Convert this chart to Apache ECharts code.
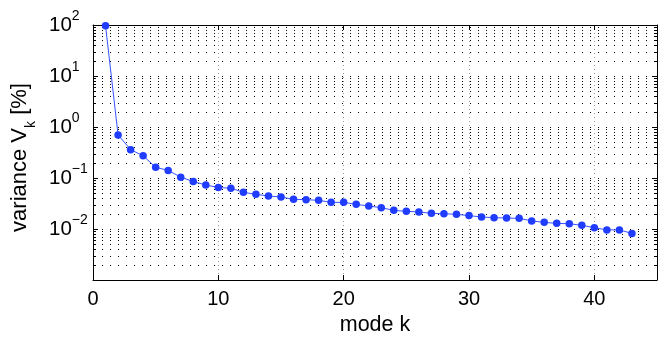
<!DOCTYPE html>
<html>
<head>
<meta charset="utf-8">
<script src="https://cdn.jsdelivr.net/npm/echarts@6/dist/echarts.min.js"></script>
<style>
  html, body { margin: 0; padding: 0; background: #fff; }
  #my_chart { width: 664px; height: 340px; }
</style>
</head>
<body>
<div id="my_chart"></div>
<script>
  // mode number k and variance V_k [%]
  var modes = [1, 2, 3, 4, 5, 6, 7, 8, 9, 10, 11, 12, 13, 14, 15, 16, 17, 18, 19, 20, 21, 22,
    23, 24, 25, 26, 27, 28, 29, 30, 31, 32, 33, 34, 35, 36, 37, 38, 39, 40, 41, 42, 43];
  var variance = [97, 0.70, 0.36, 0.272, 0.162, 0.141, 0.104, 0.085, 0.073, 0.065, 0.063,
    0.0524, 0.0478, 0.0444, 0.0424, 0.0382, 0.0376, 0.0365, 0.0333, 0.0333, 0.0305, 0.0282,
    0.0262, 0.0232, 0.0222, 0.0216, 0.0203, 0.0199, 0.0194, 0.0183, 0.0172, 0.0167, 0.0164,
    0.0162, 0.0144, 0.0135, 0.0129, 0.0127, 0.0118, 0.0106, 0.0096, 0.0096, 0.0082];

  // log grid: decades and the 2..9 sub-steps inside each
  var decades = [0.001, 0.01, 0.1, 1, 10];
  var minorSteps = [2, 3, 4, 5, 6, 7, 8, 9];

  var FONT = "'Liberation Sans', Arial, Helvetica, sans-serif";

  var minorLevels = [];
  decades.forEach(function (d) {
    minorSteps.forEach(function (s) { minorLevels.push([0, d * s]); });
  });

  var my_chart = echarts.init(document.getElementById('my_chart'));

  // dotted minor grid line + short inner ticks on both sides
  function minorGrid(params, api) {
    var cs = params.coordSys;
    var p = api.coord([0, api.value(1)]);
    var y = Math.round(p[1]) + 0.5;
    return {
      type: 'group',
      children: [{
        type: 'line',
        shape: { x1: cs.x, y1: y, x2: cs.x + cs.width, y2: y },
        style: { stroke: '#000', lineWidth: 1, lineDash: [1, 7], lineDashOffset: 7 }
      }, {
        type: 'line',
        shape: { x1: cs.x, y1: y, x2: cs.x + 3, y2: y },
        style: { stroke: '#000', lineWidth: 1 }
      }, {
        type: 'line',
        shape: { x1: cs.x + cs.width - 3, y1: y, x2: cs.x + cs.width, y2: y },
        style: { stroke: '#000', lineWidth: 1 }
      }]
    };
  }

  my_chart.setOption({
    animation: false,
    backgroundColor: '#fff',
    grid: { left: 93, right: 7, top: 25, bottom: 60, containLabel: false, outerBoundsMode: 'none' },
    xAxis: [{
      type: 'value',
      min: 0, max: 45, interval: 10,
      name: 'mode k',
      nameLocation: 'middle',
      nameGap: 33,
      nameTextStyle: { fontSize: 21.5, color: '#000', fontFamily: FONT },
      axisLine: { show: true, onZero: false, lineStyle: { color: '#000', width: 1 } },
      axisTick: { show: true, inside: true, length: 5, lineStyle: { color: '#000' } },
      axisLabel: { fontSize: 20, color: '#000', fontFamily: FONT, margin: 9, showMaxLabel: false },
      splitLine: { show: true, lineStyle: { color: '#999', width: 1, type: [1, 3] } }
    }, {
      type: 'value',
      position: 'top',
      min: 0, max: 45, interval: 10,
      axisLine: { show: true, onZero: false, lineStyle: { color: '#000', width: 1 } },
      axisTick: { show: true, inside: true, length: 5, lineStyle: { color: '#000' } },
      axisLabel: { show: false },
      splitLine: { show: false }
    }],
    yAxis: [{
      type: 'log',
      logBase: 10,
      min: 0.001, max: 100,
      name: '{n|variance V}{sub|k}{n| [%]}',
      nameLocation: 'middle',
      nameGap: 62,
      nameTextStyle: {
        color: '#000', fontFamily: FONT, fontSize: 22,
        padding: [0, 10, 0, 0],
        rich: {
          n: { fontSize: 22, color: '#000', fontFamily: FONT },
          sub: { fontSize: 14, color: '#000', fontFamily: FONT, lineHeight: 14, padding: [22, 0, 0, 0] }
        }
      },
      axisLine: { show: true, onZero: false, lineStyle: { color: '#000', width: 1 } },
      axisTick: { show: true, inside: true, length: 5, lineStyle: { color: '#000' } },
      axisLabel: {
        align: 'left',
        margin: 44,
        formatter: function (v) {
          var e = Math.round(Math.log10(v));
          if (e === -3) return '';
          return '{b|10}{s|' + (e < 0 ? '\u2212' + (-e) : e) + '}';
        },
        rich: {
          b: { fontSize: 20.5, color: '#000', fontFamily: FONT, lineHeight: 20 },
          s: { fontSize: 14, color: '#000', fontFamily: FONT, lineHeight: 14, padding: [0, 0, 18, 0] }
        }
      },
      splitLine: { show: true, lineStyle: { color: '#000', width: 1, type: [1, 7], dashOffset: 7 } }
    }, {
      type: 'log',
      logBase: 10,
      min: 0.001, max: 100,
      position: 'right',
      axisLine: { show: true, onZero: false, lineStyle: { color: '#000', width: 1 } },
      axisTick: { show: true, inside: true, length: 5, lineStyle: { color: '#000' } },
      axisLabel: { show: false },
      splitLine: { show: false }
    }],
    series: [{
      type: 'custom',
      silent: true,
      xAxisIndex: 0,
      yAxisIndex: 0,
      renderItem: minorGrid,
      data: minorLevels,
      z: 1
    }, {
      type: 'line',
      xAxisIndex: 0,
      yAxisIndex: 0,
      data: modes.map(function (k, i) { return [k, variance[i]]; }),
      symbol: 'circle',
      symbolSize: 7.5,
      lineStyle: { color: '#3552ff', width: 1 },
      itemStyle: { color: '#1f3cff' },
      z: 5
    }]
  });
</script>
</body>
</html>
